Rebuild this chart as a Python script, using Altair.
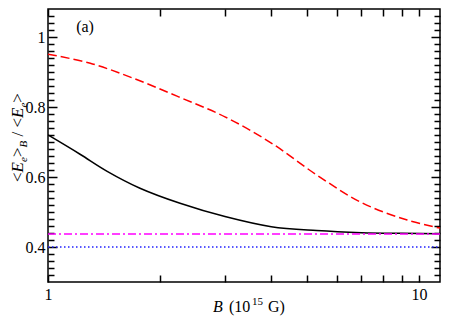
import altair as alt
import pandas as pd

# ---- data ----
B_red = [1.0, 1.3, 1.7, 2.25, 3.0, 4.0, 5.3, 7.0, 9.3, 12.0]
V_red = [0.951, 0.925, 0.882, 0.829, 0.772, 0.697, 0.606, 0.527, 0.477, 0.449]
B_black = [1.0, 1.22, 1.44, 1.77, 2.27, 3.0, 4.0, 5.3, 7.0, 9.0, 12.0]
V_black = [0.72, 0.665, 0.617, 0.568, 0.525, 0.487, 0.458, 0.447, 0.441, 0.439, 0.438]
B_flat = [1.0, 12.0]
V_magenta = [0.437, 0.437]
V_blue = [0.40, 0.40]

x_ticks = [1, 2, 3, 4, 5, 6, 7, 8, 9, 10]
y_major = [0.4, 0.6, 0.8, 1.0]
y_minor = [round(0.30 + 0.02 * i, 2) for i in range(1, 39)]
y_minor = [v for v in y_minor if v not in y_major]

FONT = "Liberation Serif, Times New Roman, Times, serif"
xscale = alt.Scale(type="log", domain=[1, 11.4], nice=False)
yscale = alt.Scale(domain=[0.3, 1.08], nice=False, zero=False)


def axis(orient, values, size, labels=False, label_expr=None):
    kw = dict(orient=orient, values=values, tickSize=size, offset=-size,
              domain=False, grid=False, title=None, tickColor="black",
              tickWidth=1.5, labels=labels)
    if labels:
        kw.update(labelExpr=label_expr, labelFont=FONT, labelFontSize=16,
                  labelColor="black", labelOverlap=False, labelFlush=False,
                  labelPadding=3 if orient == "left" else 4)
    return alt.Axis(**kw)


def line(bs, vs, color, dash, xaxis, yaxis):
    df = pd.DataFrame({"B": bs, "v": vs})
    mk = dict(color=color, strokeWidth=1.5, interpolate="catmull-rom", clip=True)
    if dash:
        mk["strokeDash"] = dash
    return alt.Chart(df).mark_line(**mk).encode(
        x=alt.X("B:Q", scale=xscale, axis=xaxis),
        y=alt.Y("v:Q", scale=yscale, axis=yaxis),
    )


red = line(B_red, V_red, "#ff0000", [9, 4],
           axis("bottom", x_ticks, 7, True,
                "datum.value == 1 ? '1' : (datum.value == 10 ? '10' : '')"),
           axis("left", y_major, 9, True,
                "datum.value == 1 ? '1' : format(datum.value, '.1f')"))
black = line(B_black, V_black, "#000000", None,
             axis("top", x_ticks, 7), axis("left", y_minor, 6))
magenta = line(B_flat, V_magenta, "#ff00ff", [8, 3, 2, 3],
               None, axis("right", y_major, 9))
blue = line(B_flat, V_blue, "#2020ff", [1.5, 2.5],
            None, axis("right", y_minor, 6))

one = pd.DataFrame({"a": [0]})


def txt(s, x, y, size=16, italic=False, angle=0, align="left", baseline="alphabetic"):
    kw = dict(text=s, font=FONT, fontSize=size, color="black", align=align,
              baseline=baseline)
    if italic:
        kw["fontStyle"] = "italic"
    if angle:
        kw["angle"] = angle
    return alt.Chart(one).mark_text(**kw).encode(x=alt.value(x), y=alt.value(y))


texts = [
    txt("(a)", 37, 18, 16, baseline="middle", align="center"),
    # x title: B (10^15 G)
    txt("B", 165, 303, 16, italic=True),
    txt("(10", 181, 303, 16),
    txt("15", 204, 296, 11),
    txt("G)", 220, 303, 16),
]
# y title: <E_e>_B / <E_e>, rotated
ybase = -25
pieces = [
    ("<", 173, 17, False, 0),
    ("E", 163.4, 17, True, 0),
    ("e", 153, 11, True, 3.5),
    (">", 148.1, 17, False, 0),
    ("B", 138.5, 11, True, 3.5),
    ("/", 127.5, 17, False, 0),
    ("<", 118.6, 17, False, 0),
    ("E", 109, 17, True, 0),
    ("e", 98.6, 11, True, 3.5),
    (">", 93.7, 17, False, 0),
]
for s, y, size, it, sub in pieces:
    texts.append(txt(s, ybase + sub, y, size, italic=it, angle=270))

chart = alt.layer(red, black, magenta, blue, *texts).resolve_axis(
    x="independent", y="independent"
).properties(
    width=392, height=273,
    autosize=alt.AutoSizeParams(type="none"),
    padding={"left": 40, "top": 1, "right": 2, "bottom": 34},
).configure_view(stroke="black", strokeWidth=1.5)

chart.save("out.html", embed_options={"renderer": "svg", "actions": False})
